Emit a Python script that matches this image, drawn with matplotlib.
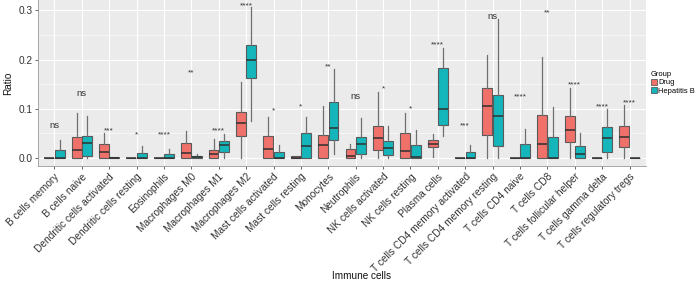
import matplotlib
matplotlib.use("Agg")
import matplotlib.pyplot as plt
from matplotlib.patches import Patch

plt.rcParams['font.family'] = ['Liberation Sans', 'DejaVu Sans']

categories = ["B cells memory", "B cells naive", "Dendritic cells activated",
              "Dendritic cells resting", "Eosinophils", "Macrophages M0",
              "Macrophages M1", "Macrophages M2", "Mast cells activated",
              "Mast cells resting", "Monocytes", "Neutrophils",
              "NK cells activated", "NK cells resting", "Plasma cells",
              "T cells CD4 memory activated", "T cells CD4 memory resting",
              "T cells CD4 naive", "T cells CD8", "T cells follicular helper",
              "T cells gamma delta", "T cells regulatory tregs"]

# (whislo, q1, median, q3, whishi)
drug = [
    (0, 0, 0, 0, 0),
    (0, 0, 0.017, 0.0426, 0.091),
    (0, 0, 0.012, 0.028, 0.051),
    (0, 0, 0, 0, 0),
    (0, 0, 0, 0, 0),
    (0, 0, 0.010, 0.031, 0.055),
    (0, 0, 0.009, 0.016, 0.038),
    (0, 0.044, 0.071, 0.093, 0.155),
    (0, 0, 0.019, 0.045, 0.083),
    (0, 0, 0.001, 0.004, 0.004),
    (0, 0, 0.026, 0.047, 0.105),
    (0, 0, 0.005, 0.018, 0.029),
    (0, 0.016, 0.040, 0.066, 0.134),
    (0, 0, 0.015, 0.052, 0.091),
    (0.003, 0.022, 0.029, 0.037, 0.049),
    (0, 0, 0, 0, 0),
    (0, 0.046, 0.106, 0.143, 0.210),
    (0, 0, 0, 0, 0),
    (0, 0, 0.028, 0.087, 0.206),
    (0, 0.033, 0.057, 0.085, 0.143),
    (0, 0, 0, 0, 0),
    (0, 0.023, 0.043, 0.065, 0.107),
]
hbv = [
    (0, 0, 0, 0.0155, 0.036),
    (0, 0.0034, 0.030, 0.045, 0.086),
    (0, 0, 0, 0.002, 0.002),
    (0, 0, 0, 0.011, 0.024),
    (0, 0, 0.001, 0.0074, 0.018),
    (0, 0, 0.002, 0.005, 0.008),
    (0, 0.0115, 0.0257, 0.035, 0.049),
    (0.076, 0.162, 0.199, 0.229, 0.306),
    (0, 0, 0, 0.0115, 0.026),
    (0, 0.001, 0.025, 0.052, 0.083),
    (0.008, 0.036, 0.061, 0.113, 0.180),
    (0, 0.008, 0.028, 0.043, 0.081),
    (0, 0.006, 0.021, 0.034, 0.066),
    (0, 0, 0.002, 0.026, 0.057),
    (0.044, 0.068, 0.100, 0.183, 0.224),
    (0, 0, 0, 0.012, 0.027),
    (0, 0.025, 0.086, 0.128, 0.282),
    (0, 0, 0.001, 0.028, 0.060),
    (0, 0, 0, 0.043, 0.104),
    (0, 0, 0.008, 0.024, 0.051),
    (0, 0.013, 0.041, 0.063, 0.099),
    (0, 0, 0, 0, 0),
]
sig_labels = ["ns", "ns", "***", "*", "****", "**", "****", "****", "*", "*", "**",
              "ns", "*", "*", "****", "***", "ns", "****", "**", "****", "****", "****"]
sig_y = [0.067, 0.132, 0.056, 0.047, 0.047, 0.174, 0.056, 0.310, 0.095, 0.105, 0.186,
         0.125, 0.140, 0.099, 0.230, 0.066, 0.287, 0.125, 0.295, 0.148, 0.105, 0.113]
groups = ["Drug", "Hepatitis B"]
colors = ["#F0716A", "#14B6BB"]

W, H = 698, 283
fig = plt.figure(figsize=(W / 100, H / 100), dpi=100)
ax = fig.add_axes([38 / W, 1 - 166 / H, (646 - 38) / W, 166 / H])
ax.set_facecolor("#EBEBEB")

def stats(vals):
    lo, q1, med, q3, hi = vals
    return dict(whislo=lo, q1=q1, med=med, q3=q3, whishi=hi, fliers=[])

edge = "#5a5a5a"
off = 0.19
bw = 0.36
for gi, (data, col) in enumerate(zip([drug, hbv], colors)):
    pos = [i + 1 + (off if gi else -off) for i in range(len(categories))]
    ax.bxp([stats(v) for v in data], positions=pos, widths=bw, patch_artist=True,
           showcaps=False, showfliers=False,
           boxprops=dict(facecolor=col, edgecolor=edge, linewidth=0.8),
           whiskerprops=dict(color="#6f6f6f", linewidth=0.9),
           medianprops=dict(color="#303030", linewidth=1.1),
           manage_ticks=False, zorder=3)

for i, (lab, yv) in enumerate(zip(sig_labels, sig_y)):
    ax.text(i + 1, yv, lab, ha="center", va="center",
            fontsize=6.8 if lab == "ns" else 6.0, color="#333333", zorder=4)

ax.set_xlim(0.4, len(categories) + 0.6)
ax.set_ylim(-0.016, 0.321)
ax.set_yticks([0.0, 0.1, 0.2, 0.3])
ax.set_yticklabels(["0.0", "0.1", "0.2", "0.3"])
ax.set_yticks([0.05, 0.15, 0.25], minor=True)
ax.set_xticks(range(1, len(categories) + 1))
ax.set_xticklabels(categories, rotation=45, ha="right", va="top",
                   rotation_mode="anchor")
ax.tick_params(axis="both", which="major", labelsize=7.3, colors="#4d4d4d",
               length=2.5, width=0.6, pad=1.5)
ax.tick_params(axis="y", which="minor", length=0)
for t in ax.get_xticklabels() + ax.get_yticklabels():
    t.set_color("#333333")
ax.grid(True, which="major", color="white", linewidth=0.8, zorder=0)
ax.grid(True, which="minor", axis="y", color="white", linewidth=0.4, zorder=0)
ax.set_axisbelow(True)
for s in ["top", "right"]:
    ax.spines[s].set_visible(False)
for s in ["left", "bottom"]:
    ax.spines[s].set_color("#9a9a9a")
    ax.spines[s].set_linewidth(0.6)

ax.set_ylabel("Ratio", fontsize=7.2, color="#111111", labelpad=4)
fig.text(361 / W, 1 - 276 / H, "Immune cells", ha="center", va="center",
         fontsize=7.2, color="#111111")

handles = [Patch(facecolor=c, edgecolor=edge, linewidth=0.6, label=g)
           for c, g in zip(colors, groups)]
leg = fig.legend(handles=handles, title="Group", loc="upper left",
                 bbox_to_anchor=(650 / W, 1 - 70 / H), frameon=False,
                 fontsize=5.4, title_fontsize=5.4, handlelength=0.8,
                 handleheight=0.9, handletextpad=0.2, labelspacing=0.1,
                 borderpad=0.1, borderaxespad=0)
leg._legend_box.align = "left"

fig.savefig("out.png", dpi=100)
